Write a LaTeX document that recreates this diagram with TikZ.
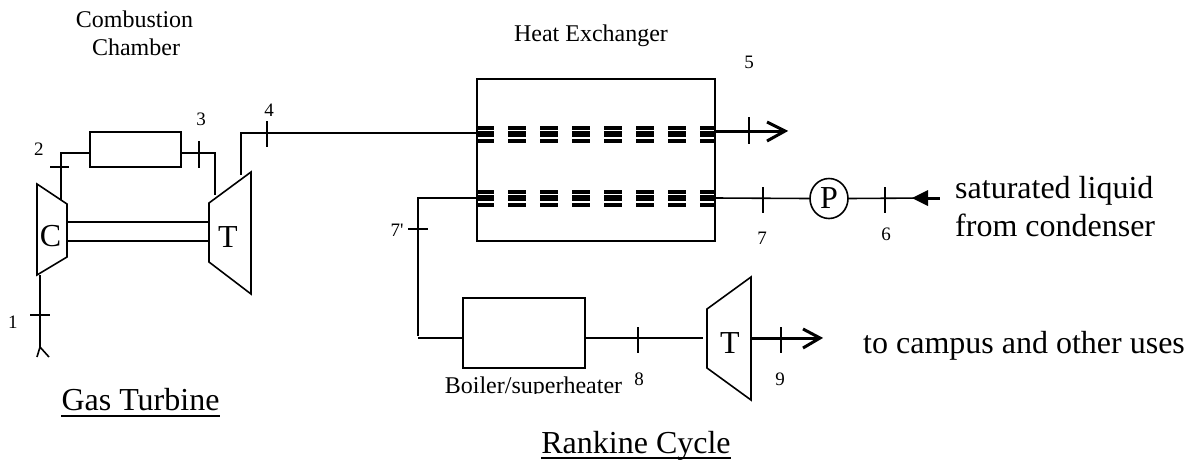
\documentclass[tikz,border=0pt]{standalone}
\usepackage{fontspec}
\usetikzlibrary{shapes.geometric}
\setmainfont{Liberation Serif}
\newfontfamily\plainserif{Liberation Serif}
\begin{document}
\begin{tikzpicture}[x=1pt,y=-1pt,
  pipe/.style={draw=black,line width=1.6pt},
  thickpipe/.style={draw=black,line width=3pt},
  tickmark/.style={draw=black,line width=1.3pt},
  ubar/.style={draw=black,line width=2pt},
  unit/.style={draw=black,line width=1.6pt,fill=white,inner sep=0pt,outer sep=0pt},
  num/.style={inner sep=0pt,anchor=base,font=\fontsize{19}{21}\selectfont},
  lab/.style={inner sep=0pt,anchor=base,font=\fontsize{24}{26}\selectfont},
  big/.style={inner sep=0pt,anchor=base,font=\fontsize{32}{34}\selectfont}]
\useasboundingbox (0,0) rectangle (1195,459);
\fill[white] (0,0) rectangle (1195,459);
% Gas turbine
\coordinate (c1) at (37,184); \coordinate (c2) at (67,204);
\coordinate (c3) at (67,257); \coordinate (c4) at (37,275);
\draw[pipe,line join=miter] (c1)--(c2)--(c3)--(c4)--cycle;
\coordinate (t1) at (209,203); \coordinate (t2) at (251,172);
\coordinate (t3) at (251,294); \coordinate (t4) at (209,262);
\draw[pipe] (t1)--(t2)--(t3)--(t4)--cycle;
\draw[pipe] (67,222) -- (209,222);
\draw[pipe] (67,241) -- (209,241);
\node[big] (cl) at (50.5,246) {C};
\node[big] (tl) at (228,247) {T};
\node[unit,minimum width=91pt,minimum height=35pt] (cc) at (135.5,149.5) {};
\coordinate (in1) at (40,347); \coordinate (bot1) at (40,275);
\draw[pipe] (bot1) -- (in1);
\draw[pipe] (37,357) -- (in1) -- (49,357);
\draw[tickmark] (30,315) -- (50,315);
\node[num] (n1) at (13,328) {1};
\coordinate (o2) at (61,200);
\draw[pipe] (o2) |- (cc.west |- 0,153);
\draw[tickmark] (50,167) -- (69,167);
\node[num] (n2) at (39,155) {2};
\coordinate (o3) at (215,195);
\draw[pipe] (cc.east |- 0,153) -| (o3);
\draw[tickmark] (199,141) -- (199,168);
\node[num] (n3) at (201,125) {3};
% Heat exchanger
\node[unit,minimum width=238pt,minimum height=162pt] (hx) at (596,160) {};
\coordinate (o4) at (241,175);
\draw[pipe] (o4) |- (hx.west |- 0,133);
\draw[tickmark] (267,121) -- (267,147);
\node[num] (n4) at (269,116) {4};
\foreach \y in {126,190}{
  \foreach \x/\w in {477/17,508/18,540/18,572/18,604/18,636/18,668/18,700/15}{
    \fill[black] (\x,\y) rectangle +(\w,3.5);
    \fill[black] (\x,\y+5) rectangle +(\w,6);
    \fill[black] (\x,\y+13) rectangle +(\w,4);
  }
}
\coordinate (a5) at (785,131);
\draw[thickpipe] (hx.east |- 0,131) -- (a5);
\draw[thickpipe,line join=miter] (767,122) -- (a5) -- (767,141);
\draw[tickmark] (749,117) -- (749,144);
\node[num] (n5) at (749,68) {5};
\node[draw=black,line width=1.6pt,ellipse,minimum width=38pt,minimum height=40pt,inner sep=0pt,outer sep=0pt,font=\fontsize{32}{34}\selectfont] (p) at (829,198.5) {P};
\draw[pipe] (hx.east |- 0,198) -- (p.west);
\draw[tickmark] (763,187) -- (763,213);
\node[num] (n7) at (762,244) {7};
\coordinate (a6) at (912,198); \coordinate (s6) at (927,198); \coordinate (e6) at (940,198);
\draw[pipe] (p.east) -- (s6);
\draw[thickpipe] (s6) -- (e6);
\fill[black] (a6) -- (928,190) -- (928,206) -- cycle;
\draw[tickmark] (885,187) -- (885,213);
\node[num] (n6) at (886,240) {6};
\node[big,anchor=base west] (sat) at (955,198) {saturated liquid};
\node[big,anchor=base west] (cond) at (955,236) {from condenser};
% Boiler
\node[unit,minimum width=122pt,minimum height=70pt] (bo) at (524,333) {};
\draw[pipe] (hx.west |- 0,198) -- (418,198) -- (418,336);
\draw[pipe] (418,338) -- (bo.west |- 0,338);
\draw[tickmark] (408,229) -- (428,229);
\node[num] (n7p) at (397,236) {\plainserif 7'};
\coordinate (tt1) at (707,309); \coordinate (tt2) at (751,277);
\coordinate (tt3) at (751,400); \coordinate (tt4) at (707,368);
\draw[pipe] (tt1)--(tt2)--(tt3)--(tt4)--cycle;
\node[big] (tl2) at (730,353) {T};
\coordinate (e8) at (703,338);
\draw[pipe] (bo.east |- 0,338) -- (e8);
\draw[tickmark] (638,327) -- (638,353);
\node[num] (n8) at (639,385) {8};
\coordinate (s9) at (752,338); \coordinate (a9) at (820,338);
\draw[thickpipe] (s9) -- (a9);
\draw[thickpipe,line join=miter] (803,329) -- (a9) -- (803,348);
\draw[tickmark] (781,327) -- (781,353);
\node[num] (n9) at (780,385) {9};
\node[big,anchor=base west] (camp) at (863,353) {to campus and other uses};
\begin{scope}
\clip (430,370) rectangle (640,393.5);
\node[lab] (bl) at (533.5,393) {Boiler/superheater};
\end{scope}
% Labels
\node[lab] (cb1) at (134.5,27) {Combustion};
\node[lab] (cb2) at (136,55) {Chamber};
\node[lab] (he) at (591,41) {Heat Exchanger};
\node[big] (gt) at (140.5,410) {Gas Turbine};
\draw[ubar] (gt.west |- 0,416) -- (gt.east |- 0,416);
\node[big] (rc) at (636,453) {Rankine Cycle};
\draw[ubar] (rc.west |- 0,458) -- (rc.east |- 0,458);
\end{tikzpicture}
\end{document}
